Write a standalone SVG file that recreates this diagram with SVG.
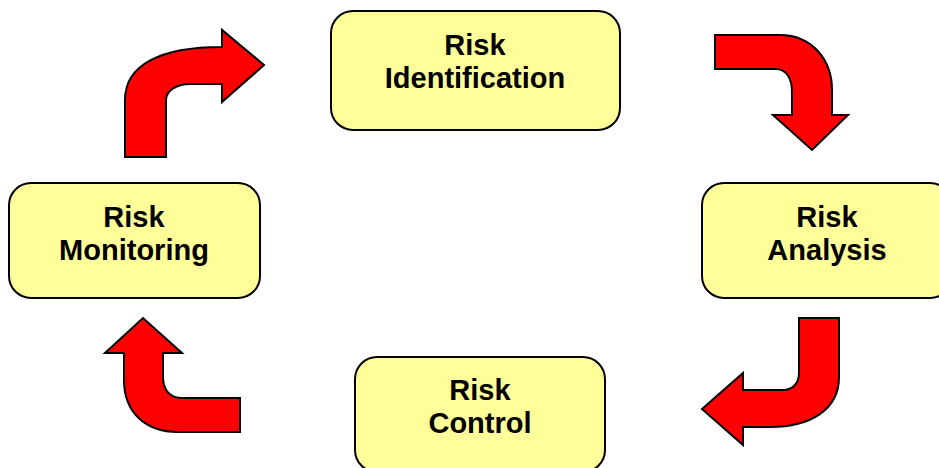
<svg xmlns="http://www.w3.org/2000/svg" width="939" height="468" viewBox="0 0 939 468">
<style>
.box{fill:#FFFF99;stroke:#000;stroke-width:2}
.lbl{font-family:"Liberation Sans",Arial,sans-serif;font-weight:bold;font-size:29px;fill:#000;text-anchor:middle}
.arr{fill:#FF0000;stroke:#000;stroke-width:2;stroke-linejoin:miter}
</style>
<rect width="939" height="468" fill="#fff"/>
<g id="connectors">
<path class="arr" d="M125,157 L125,100 C125,65 160,47 222,47 L222,30 L264,65 L222,102 L222,84 L190,84 C175,84 166,92 166,100 L166,157 Z"/>
<path class="arr" d="M715,35 L780,35 C812,35 832,60 832,90 L832,115 L848,115 L812,150 L773,115 L792,115 L792,92 C792,78 786,69 776,69 L715,69 Z"/>
<path class="arr" d="M799,318 L839,318 L839,377 C839,410 810,427 770,427 L743,427 L743,445 L702,409 L743,373 L743,390 L783,390 C793,390 799,383 799,373 Z"/>
<path class="arr" d="M240,432 L240,398 L182,398 C170,398 163,390 163,377 L163,353 L182,353 L143,318 L105,353 L124,353 L124,380 C124,412 145,432 178,432 Z"/>
</g>
<g id="identification">
<rect class="box" x="331" y="11" width="289" height="119" rx="22"/>
<text class="lbl" x="475" y="55">Risk</text>
<text class="lbl" x="475" y="88">Identification</text>
</g>
<g id="analysis">
<rect class="box" x="702" y="183" width="250" height="115" rx="22"/>
<text class="lbl" x="827" y="227">Risk</text>
<text class="lbl" x="827" y="260">Analysis</text>
</g>
<g id="control">
<rect class="box" x="355" y="357" width="250" height="115" rx="22"/>
<text class="lbl" x="480" y="400">Risk</text>
<text class="lbl" x="480" y="433">Control</text>
</g>
<g id="monitoring">
<rect class="box" x="9" y="183" width="251" height="115" rx="22"/>
<text class="lbl" x="134" y="227">Risk</text>
<text class="lbl" x="134" y="260">Monitoring</text>
</g>
</svg>
